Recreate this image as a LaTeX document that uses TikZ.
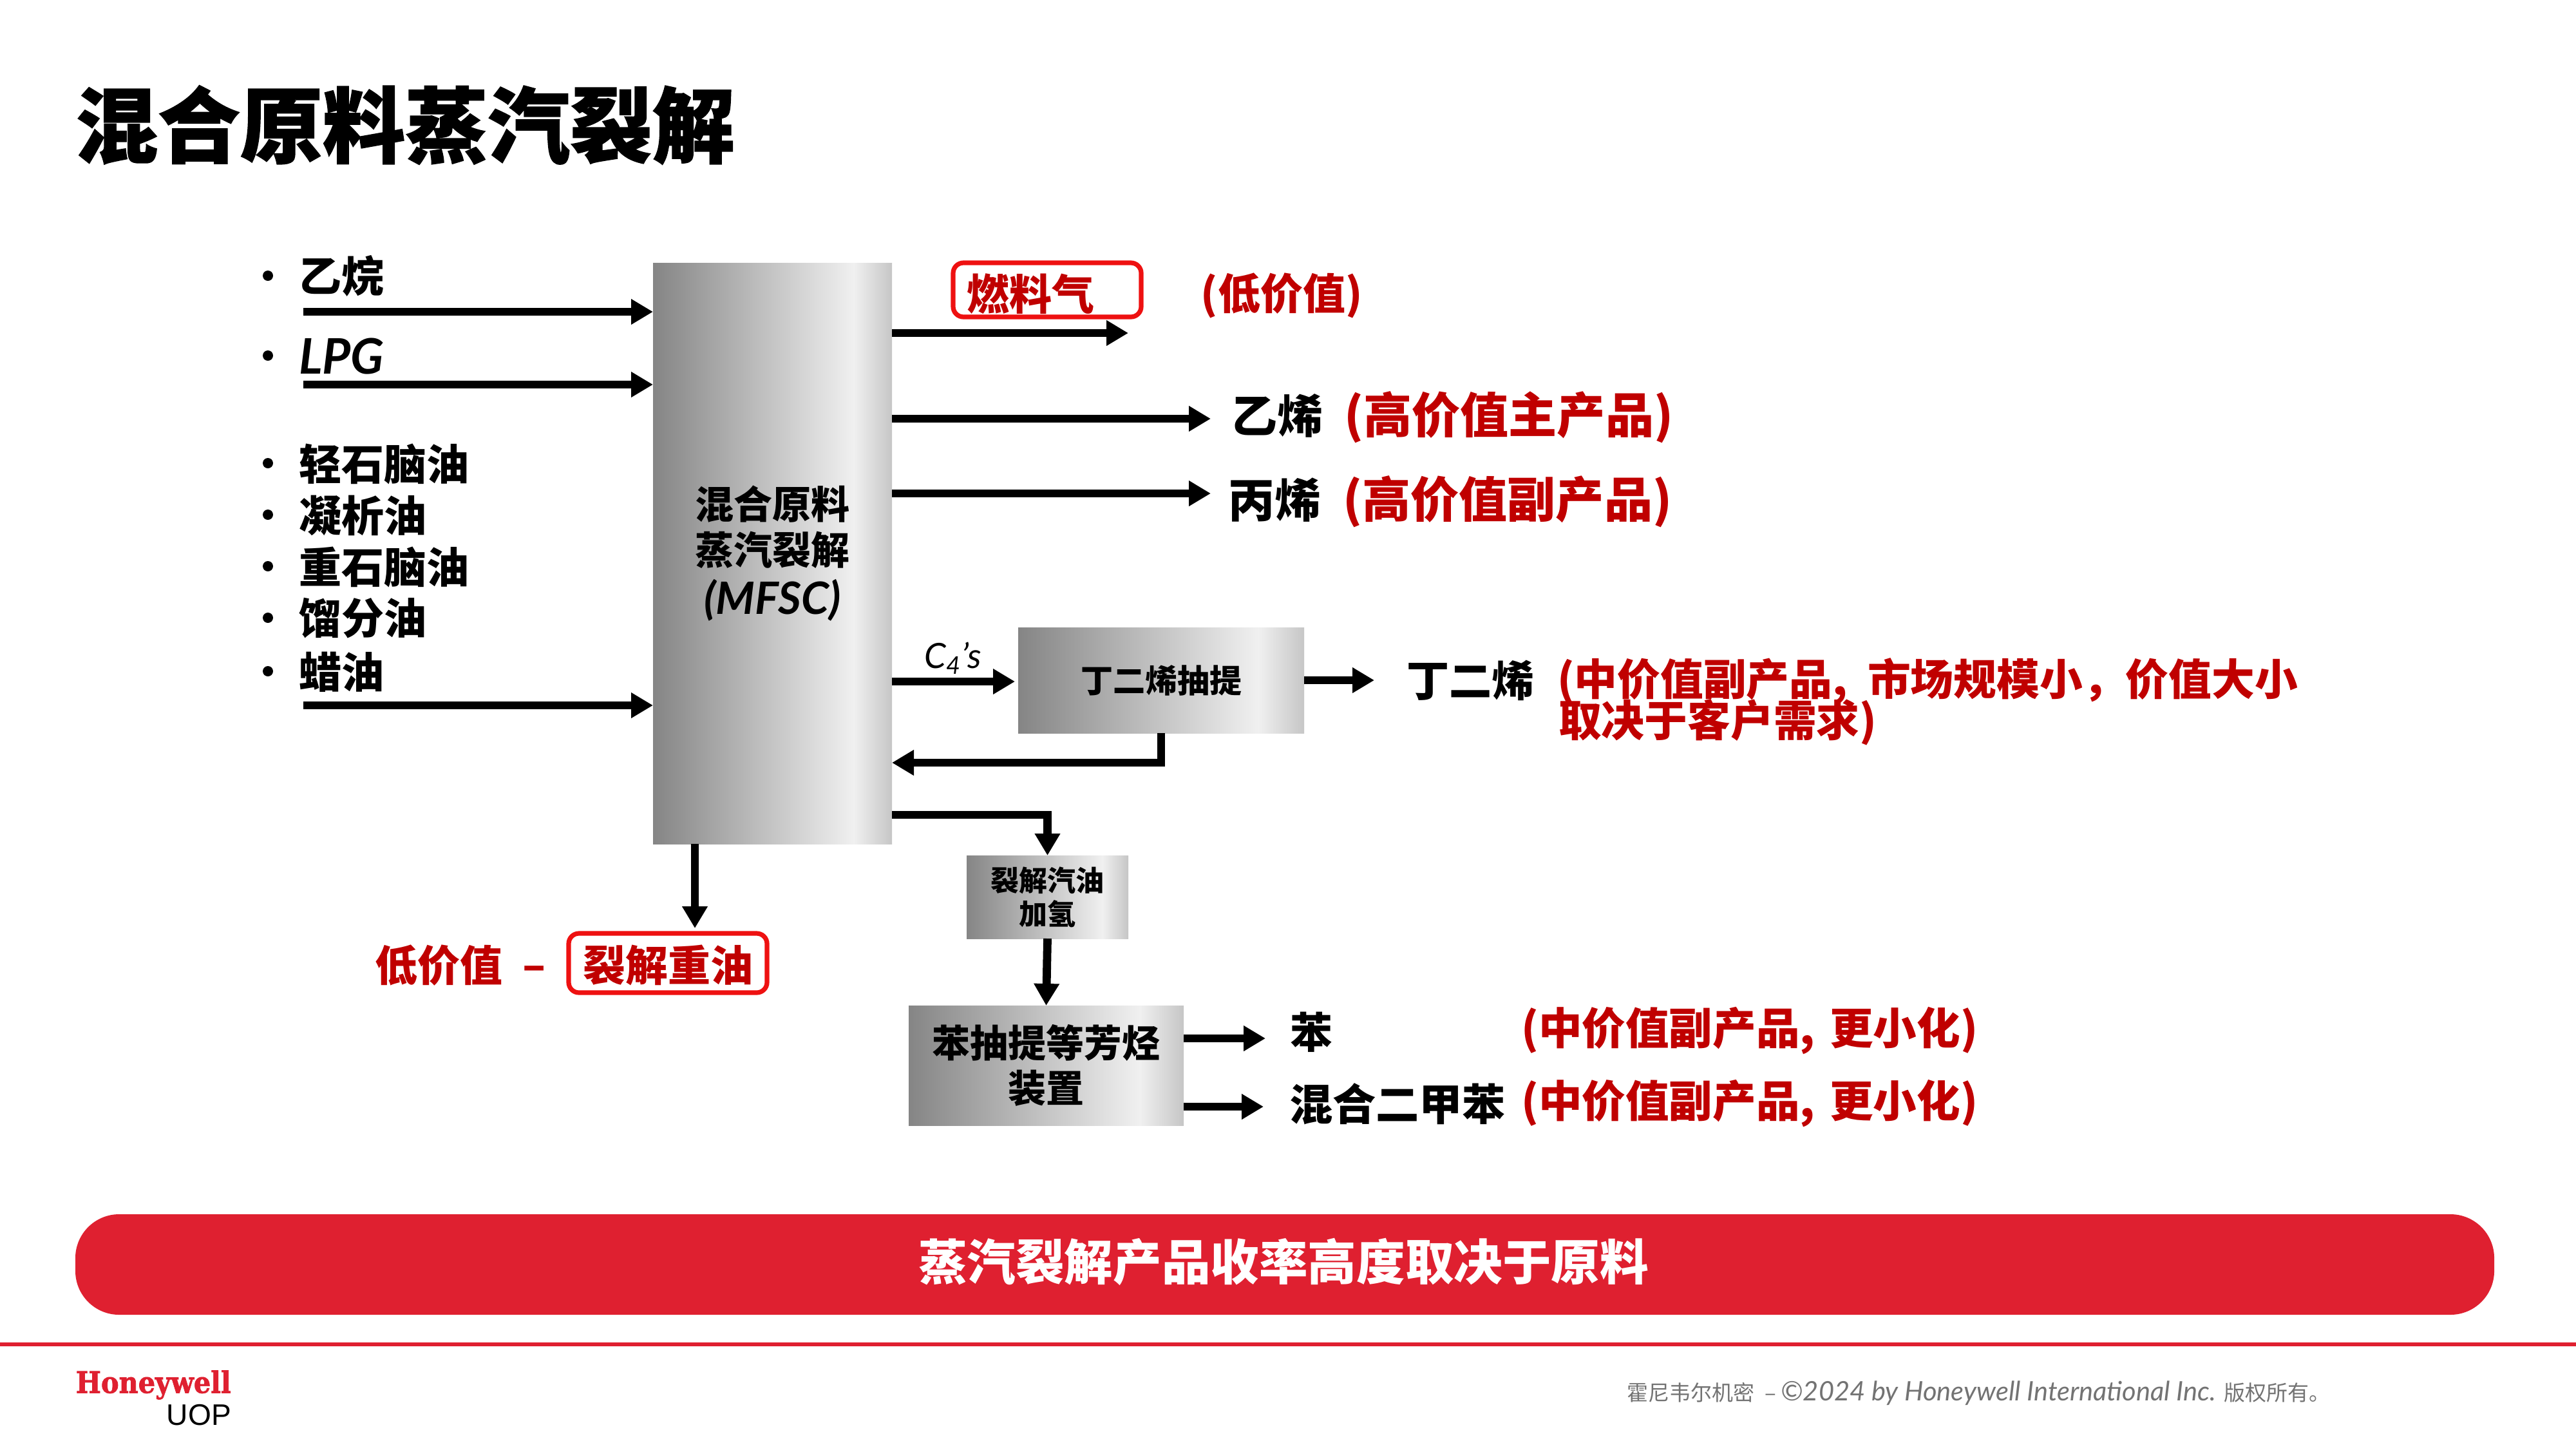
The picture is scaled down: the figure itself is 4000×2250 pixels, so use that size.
\documentclass[tikz,border=0pt]{standalone}
\usepackage{fontspec}
\usepackage{graphicx}
\usetikzlibrary{arrows.meta,calc}
\setmainfont{Noto Sans CJK SC}
\newfontfamily\titlefont[BoldFeatures={FakeBold=1.2}]{Noto Sans CJK SC}
\newfontfamily\latfont{Lato}
\newfontfamily\hwfont[BoldFeatures={FakeBold=1.5}]{DejaVu Serif Condensed}
\newfontfamily\uopfont{Liberation Sans}
\newcommand{\lat}[1]{{\latfont\itshape #1}}
\newcommand{\nc}{,\hspace{5.75pt}}
\definecolor{darkred}{HTML}{C00000}
\definecolor{hwred}{HTML}{DF2030}
\definecolor{boxred}{HTML}{EE1111}
\definecolor{gL}{HTML}{858585}
\definecolor{gH}{HTML}{F0F0F0}
\definecolor{gR}{HTML}{C6C6C6}
\pgfdeclarehorizontalshading{steel}{100bp}{color(0bp)=(gL); color(25bp)=(gL); color(67bp)=(gH); color(75bp)=(gR); color(100bp)=(gR)}
\newcommand{\fs}[1]{\fontsize{#1}{#1}\selectfont\bfseries}
\tikzset{
  arr/.style={line width=3.2pt,-{Triangle[length=8.5pt,width=9.4pt]}},
  txt/.style={inner sep=0pt,outer sep=0pt,font=\fs{16.5},text=black},
  redtxt/.style={txt,text=darkred},
  lefttxt/.style={anchor=west},
  steelbox/.style={shade,shading=steel,inner sep=0pt,outer sep=0pt,align=center,anchor=north west,text=black},
  bul/.style={circle,fill=black,inner sep=0pt,outer sep=0pt,minimum size=4pt},
  redbox/.style={draw=boxred,line width=1.8pt,rounded corners=4pt,inner sep=0pt,outer sep=0pt,text=darkred,font=\fs{16.5}}
}
\begin{document}
\begin{tikzpicture}[x=0.25pt,y=-0.25pt]
\useasboundingbox (0,0) rectangle (4000,2250);
\fill[white] (0,0) rectangle (4000,2250);
% title
\node[txt,lefttxt,font=\fontsize{32}{32}\titlefont\bfseries] (title) at (117,194) {混合原料蒸汽裂解};
% main box
\node[steelbox,minimum width=92.75pt,minimum height=225.5pt,font=\fontsize{15}{17.8}\selectfont\bfseries] (main) at (1014,408) {混合原料\\蒸汽裂解\\[1.5pt]\fontsize{17.3}{17.8}\selectfont\lat{(MFSC)}};
% feeds
\foreach \n/\y in {b1/428,b2/552,b3/719,b4/799,b5/879,b6/959,b7/1042}{\node[bul] (\n) at (416,\y) {};}
\node[txt,lefttxt] (t1) at (464,428) {乙烷};
\node[txt,lefttxt,font=\fs{19}] (t2) at (464,553) {\lat{LPG}};
\node[txt,lefttxt] (t3) at (464,720) {轻石脑油};
\node[txt,lefttxt] (t4) at (464,800) {凝析油};
\node[txt,lefttxt] (t5) at (464,880) {重石脑油};
\node[txt,lefttxt] (t6) at (464,960) {馏分油};
\node[txt,lefttxt] (t7) at (464,1043) {蜡油};
\coordinate (f1) at (471,484);
\coordinate (f2) at (471,597);
\coordinate (f3) at (471,1095);
\draw[arr] (f1) -- (f1 -| main.west);
\draw[arr] (f2) -- (f2 -| main.west);
\draw[arr] (f3) -- (f3 -| main.west);
% fuel gas
\node[redbox,minimum width=73pt,minimum height=21pt] (fuel) at (1626,450) {};
\node[redtxt] (fuelt) at (1600,456) {燃料气};
\node[redtxt] (lowv) at (1990,459) {(低价值)};
\coordinate (o1) at (1752,517);
\draw[arr] (o1 -| main.east) -- (o1);
% ethylene
\node[txt,lefttxt,font=\fs{17.8}] (eth) at (1912,645) {乙烯};
\node[redtxt,lefttxt,font=\fs{18.8}] (ethr) at (2087,648) {(高价值主产品)};
\coordinate (o2) at (1880,650);
\draw[arr] (o2 -| main.east) -- (o2);
% propylene
\node[txt,lefttxt,font=\fs{18}] (pro) at (1907,776) {丙烯};
\node[redtxt,lefttxt,font=\fs{18.8}] (pror) at (2085,779) {(高价值副产品)};
\coordinate (o3) at (1880,766);
\draw[arr] (o3 -| main.east) -- (o3);
% butadiene
\node[steelbox,minimum width=111pt,minimum height=41pt,font=\fs{12.5}] (bde) at (1581,974) {丁二烯抽提};
\coordinate (c4) at (1576,1058);
\draw[arr] (c4 -| main.east) -- (c4);
\node[txt,font=\fontsize{13.5}{14}\selectfont] (c4t) at (1480,1022) {\lat{C\textsubscript{4}’s}};
\coordinate (ret) at (1803,1184);
\draw[arr] (bde.south -| ret) -- (ret) -- (ret -| main.east);
\coordinate (o4) at (2134,1056);
\draw[arr] (o4 -| bde.east) -- (o4);
\node[txt,lefttxt] (bdt) at (2184,1056) {丁二烯};
\node[redtxt,lefttxt,font=\fs{16.7}] (bdr1) at (2418,1058) {(中价值副产品,\hspace{7.75pt}市场规模小，价值大小};
\node[redtxt,lefttxt,font=\fs{16.7}] (bdr2) at (2420,1121) {取决于客户需求)};
% pygas
\node[steelbox,minimum width=62.75pt,minimum height=32.25pt,font=\fontsize{11}{13}\selectfont\bfseries] (pyg) at (1501,1328) {裂解汽油\\加氢};
\coordinate (py) at (1385,1265);
\draw[arr] (py -| main.east) -- (py -| pyg.north) -- (pyg.north);
% aromatics
\node[steelbox,minimum width=106.75pt,minimum height=46.5pt,font=\fontsize{14.75}{17.3}\selectfont\bfseries] (aro) at (1411,1561) {苯抽提等芳烃\\装置};
\draw[arr] (pyg.south) -- (aro.north);
\coordinate (o5) at (1965,1612);
\coordinate (o6) at (1962,1718);
\draw[arr] (o5 -| aro.east) -- (o5);
\draw[arr] (o6 -| aro.east) -- (o6);
\node[txt,lefttxt] (bz) at (2003,1602) {苯};
\node[txt,lefttxt,font=\fs{16.8}] (xy) at (2002,1714) {混合二甲苯};
\node[redtxt,lefttxt,font=\fs{16.9}] (bzr) at (2362,1600) {(中价值副产品\nc 更小化)};
\node[redtxt,lefttxt,font=\fs{16.9}] (xyr) at (2362,1713) {(中价值副产品\nc 更小化)};
% heavy oil
\node[redbox,minimum width=77pt,minimum height=23pt] (pfo) at (1037,1495) {};
\node[redtxt] (pfot) at (1037,1498) {裂解重油};
\node[redtxt,lefttxt] (lv) at (582,1499) {低价值};
\node[redtxt] (dash) at (830,1511) {–};
\coordinate (d1) at (1079,1441);
\draw[arr] (d1 |- main.south) -- (d1);
% banner
\node[fill=hwred,rounded corners=17pt,minimum width=939pt,minimum height=39pt,inner sep=0pt,outer sep=0pt] (ban) at (1995,1963) {};
\node[text=white,font=\fs{18.9},inner sep=0pt] (bant) at (1993,1959) {蒸汽裂解产品收率高度取决于原料};
% footer
\fill[hwred] (0,2084) rectangle (4000,2090);
\node[inner sep=0pt,anchor=west,text=hwred,font=\fontsize{13}{13}\hwfont\bfseries] (hw) at (117,2150) {\resizebox{60.25pt}{!}{Honeywell}};
\node[inner sep=0pt,anchor=west,text=black,font=\fontsize{12}{12}\uopfont] (uop) at (258,2197) {\resizebox{25pt}{!}{UOP}};
\node[inner sep=0pt,anchor=west,text=black!55,font=\fontsize{8.25}{9}\selectfont] (foot) at (2526,2163) {霍尼韦尔机密\hspace{2pt} – \fontsize{10.4}{11}\selectfont\lat{©2024 by Honeywell International Inc.} \fontsize{8.25}{9}\selectfont 版权所有。};
\end{tikzpicture}
\end{document}
